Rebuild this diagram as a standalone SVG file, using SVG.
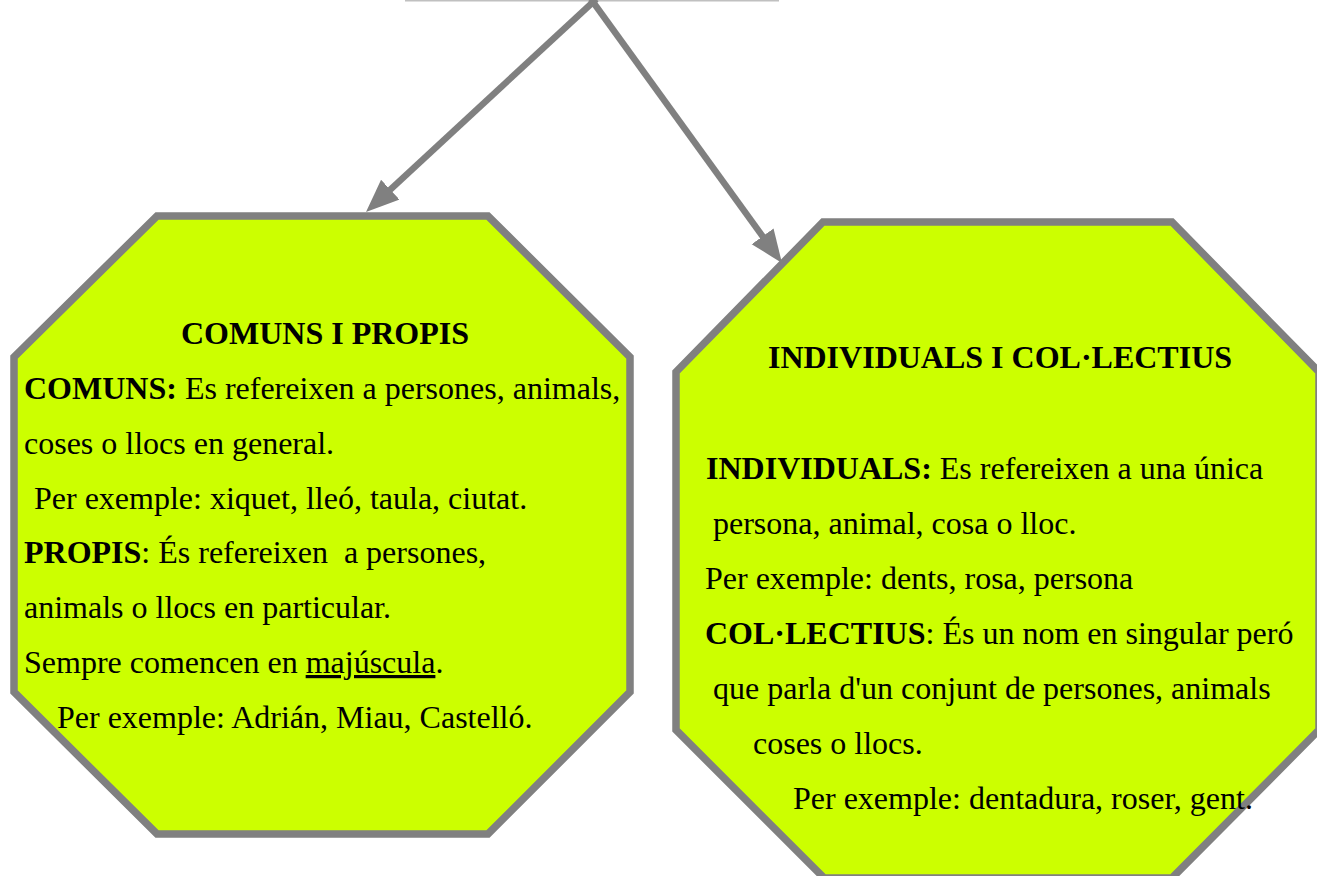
<svg xmlns="http://www.w3.org/2000/svg" width="1317" height="876" viewBox="0 0 1317 876">
<style>
.oct{fill:#ccff00;stroke:#808080;stroke-width:7.5;stroke-linejoin:miter}
.t{font-family:"Liberation Serif","Times New Roman",serif;font-size:32px;fill:#000}
.b{font-weight:bold}
.c{text-anchor:middle}
.con{stroke:#808080;stroke-width:6.5;fill:none}
</style>
<defs>
<marker id="ah" markerUnits="userSpaceOnUse" markerWidth="36" markerHeight="28" refX="1" refY="13.5" orient="auto" viewBox="0 0 36 28">
<path d="M0,0 L33,13.5 L0,27 z" fill="#808080"/>
</marker>
</defs>
<rect width="1317" height="876" fill="#fff"/>
<line x1="405" y1="0.5" x2="779" y2="0.5" stroke="#c0c0c0" stroke-width="2"/>
<g id="connectors">
<line class="con" x1="596.3" y1="-1" x2="389.5" y2="190.3" marker-end="url(#ah)"/>
<line class="con" x1="590.9" y1="-1" x2="763.2" y2="237.1" marker-end="url(#ah)"/>
</g>
<g id="node-comuns">
<polygon class="oct" points="157,216 488,216 630,357 630,692 488,834 157,834 14,692 14,357"/>
<text class="t b c" x="325" y="344">COMUNS I PROPIS</text>
<text class="t" x="24" y="398.5"><tspan class="b">COMUNS:</tspan> Es refereixen a persones, animals,</text>
<text class="t" x="24" y="453.5">coses o llocs en general.</text>
<text class="t" x="34" y="508.5">Per exemple: xiquet, lleó, taula, ciutat.</text>
<text class="t" x="24" y="563" xml:space="preserve"><tspan class="b">PROPIS</tspan>: És refereixen  a persones,</text>
<text class="t" x="24" y="618">animals o llocs en particular.</text>
<text class="t" x="24" y="673">Sempre comencen en <tspan text-decoration="underline">majúscula</tspan>.</text>
<text class="t" x="57" y="728">Per exemple: Adrián, Miau, Castelló.</text>
</g>
<g id="node-individuals">
<polygon class="oct" points="823,222 1172,222 1319,372 1319,730 1172,878 824,878 676,730 676,372"/>
<text class="t b c" x="1000" y="368">INDIVIDUALS I COL·LECTIUS</text>
<text class="t" x="706" y="479"><tspan class="b">INDIVIDUALS:</tspan> Es refereixen a una única</text>
<text class="t" x="713" y="534">persona, animal, cosa o lloc.</text>
<text class="t" x="705" y="589">Per exemple: dents, rosa, persona</text>
<text class="t" x="705" y="644"><tspan class="b">COL·LECTIUS</tspan>: És un nom en singular peró</text>
<text class="t" x="713" y="699">que parla d'un conjunt de persones, animals</text>
<text class="t" x="753" y="754">coses o llocs.</text>
<text class="t" x="793" y="809">Per exemple: dentadura, roser, gent.</text>
</g>
</svg>
